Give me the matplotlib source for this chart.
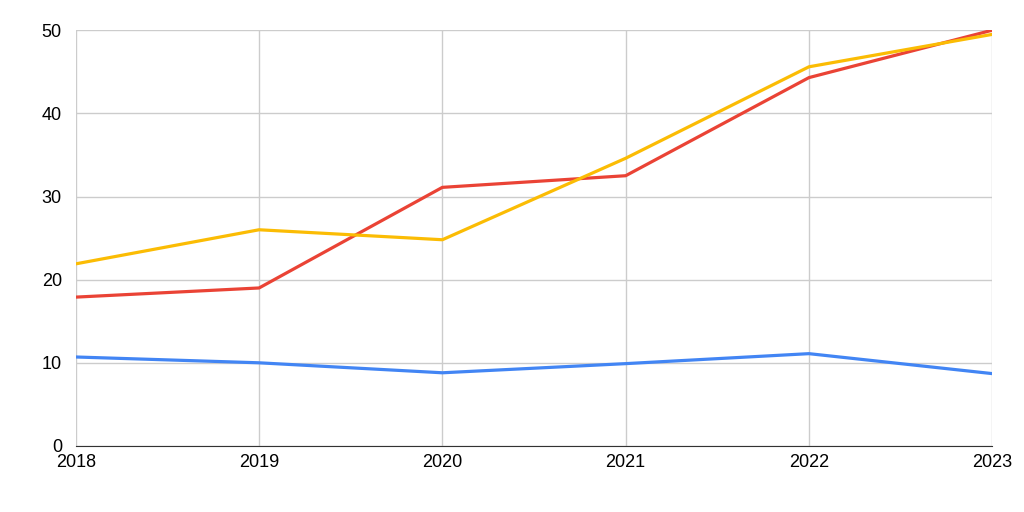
import matplotlib.pyplot as plt

years = [2018, 2019, 2020, 2021, 2022, 2023]
blue_vals = [10.7, 10.0, 8.8, 9.9, 11.1, 8.7]
red_vals = [17.9, 19.0, 31.1, 32.5, 44.3, 50.0]
yellow_vals = [21.9, 26.0, 24.8, 34.6, 45.6, 49.5]

plt.rcParams['font.family'] = ['Liberation Sans', 'DejaVu Sans']

fig = plt.figure(figsize=(10.24, 5.12), dpi=100)
ax = fig.add_axes([0.074, 0.129, 0.895, 0.812])

ax.plot(years, blue_vals, color='#4285f4', linewidth=2.3)
ax.plot(years, red_vals, color='#ea4335', linewidth=2.3)
ax.plot(years, yellow_vals, color='#fbbc04', linewidth=2.3)

ax.set_xlim(2018, 2023)
ax.set_ylim(0, 50)
ax.set_xticks(years)
ax.set_yticks([0, 10, 20, 30, 40, 50])
ax.grid(True, color='#cccccc', linewidth=1)
ax.set_axisbelow(True)
for s in ['top', 'right', 'left']:
    ax.spines[s].set_visible(False)
ax.spines['bottom'].set_color('#333333')
ax.tick_params(length=0, labelsize=13, colors='#000000')
ax.tick_params(axis='x', pad=6)
ax.tick_params(axis='y', pad=10)

fig.savefig('out.png')
